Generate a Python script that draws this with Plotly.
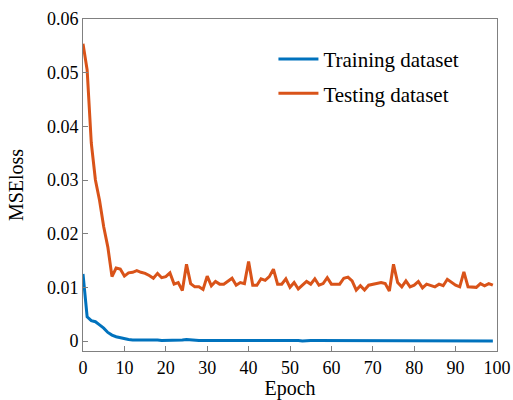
import plotly.graph_objects as go

epochs = list(range(100))

training = [0.0125, 0.0045, 0.0038, 0.0036, 0.0030, 0.0024, 0.0016, 0.0011, 0.0008, 0.0006,
            0.0005, 0.0003, 0.0002, 0.0002, 0.0002, 0.0002, 0.0003, 0.0002, 0.0002, 0.0001,
            0.0001, 0.0001, 0.0001, 0.0001, 0.0002, 0.0003, 0.0002, 0.0001, 0.0001, 0.0001,
            0.0001, 0.0001, 0.0002, 0.0001, 0.0001, 0.0001, 0.0001, 0.0001, 0.0001, 0.0001,
            0.0001, 0.0001, 0.0001, 0.0001, 0.0001, 0.0002, 0.0001, 0.0001, 0.0001, 0.0001,
            0.0001, 0.0001, 0.0001, 0.0000, 0.0001, 0.0001, 0.0001, 0.0001, 0.0001, 0.0001,
            0.0001, 0.0001, 0.0001, 0.0001, 0.0001, 0.0001, 0.0001, 0.0001, 0.0001, 0.0001,
            0.0000, 0.0000, 0.0000, 0.0000, 0.0001, 0.0001, 0.0001, 0.0000, 0.0000, 0.0000,
            0.0000, 0.0000, 0.0000, 0.0000, 0.0000, 0.0000, 0.0000, 0.0000, 0.0000, 0.0000,
            0.0000, 0.0000, 0.0001, 0.0000, 0.0000, 0.0000, 0.0001, 0.0000, 0.0000, 0.0000]

testing = [0.0554, 0.0505, 0.0369, 0.0300, 0.0262, 0.0213, 0.0175, 0.0120, 0.0136, 0.0134,
           0.0121, 0.0127, 0.0128, 0.0131, 0.0128, 0.0126, 0.0122, 0.0117, 0.0126, 0.0118,
           0.0120, 0.0127, 0.0106, 0.0109, 0.0094, 0.0143, 0.0107, 0.0101, 0.0101, 0.0096,
           0.0121, 0.0103, 0.0111, 0.0106, 0.0106, 0.0111, 0.0117, 0.0104, 0.0109, 0.0107,
           0.0148, 0.0104, 0.0104, 0.0116, 0.0113, 0.0120, 0.0134, 0.0106, 0.0106, 0.0116,
           0.0100, 0.0109, 0.0097, 0.0104, 0.0111, 0.0106, 0.0116, 0.0104, 0.0107, 0.0118,
           0.0106, 0.0106, 0.0106, 0.0117, 0.0119, 0.0112, 0.0095, 0.0103, 0.0095, 0.0104,
           0.0106, 0.0107, 0.0109, 0.0107, 0.0093, 0.0143, 0.0109, 0.0101, 0.0112, 0.0101,
           0.0104, 0.0111, 0.0099, 0.0106, 0.0104, 0.0101, 0.0106, 0.0103, 0.0115, 0.0109,
           0.0104, 0.0101, 0.0129, 0.0101, 0.0101, 0.0100, 0.0107, 0.0103, 0.0107, 0.0104]

x_ticks = [0, 10, 20, 30, 40, 50, 60, 70, 80, 90, 100]
y_ticks = [0, 0.01, 0.02, 0.03, 0.04, 0.05, 0.06]
y_tick_labels = ["0", "0.01", "0.02", "0.03", "0.04", "0.05", "0.06"]

font_family = "Liberation Serif, Times New Roman, serif"

fig = go.Figure()
fig.add_trace(go.Scatter(x=epochs, y=training, mode="lines", name="Training dataset",
                         legendgroup="train",
                         line=dict(color="#0072BD", width=3)))
fig.add_trace(go.Scatter(x=epochs, y=testing, mode="lines", name="Testing dataset",
                         legendgroup="test",
                         line=dict(color="#D95319", width=3)))

axis_common = dict(showline=True, linecolor="#808080", linewidth=1, mirror=True,
                   ticks="inside", ticklen=5, tickcolor="#808080", showgrid=False,
                   zeroline=False, automargin=False,
                   tickfont=dict(size=18, color="#000000", family=font_family))

fig.update_xaxes(range=[0, 100], tickvals=x_ticks,
                 title=dict(text="Epoch", font=dict(size=20, color="#000000", family=font_family),
                            standoff=2),
                 **axis_common)
fig.update_yaxes(range=[-0.00186, 0.06], tickvals=y_ticks, ticktext=y_tick_labels,
                 title=dict(text="MSEloss", font=dict(size=20, color="#000000", family=font_family),
                            standoff=17),
                 **axis_common)

fig.update_layout(
    width=513, height=400,
    margin=dict(l=83, r=16, t=19, b=49),
    paper_bgcolor="white", plot_bgcolor="white",
    font=dict(family=font_family, color="#000000"),
    legend=dict(x=0.46, y=0.94, xanchor="left", yanchor="top",
                bgcolor="rgba(0,0,0,0)", borderwidth=0,
                font=dict(size=21, family=font_family, color="#000000"),
                itemwidth=40, tracegroupgap=4),
)

fig.write_html("out.html")
